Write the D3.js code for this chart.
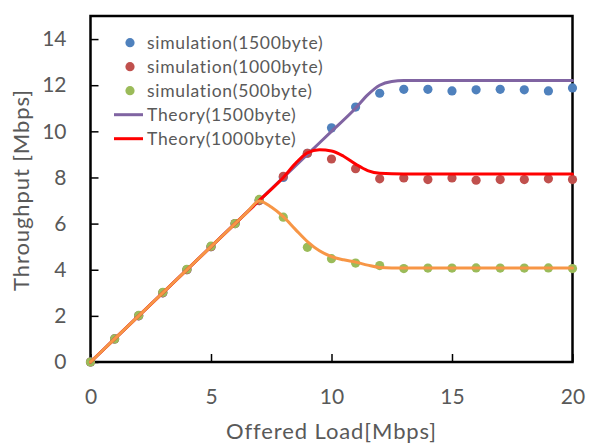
<!DOCTYPE html>
<html><head><meta charset="utf-8">
<script src="https://cdn.jsdelivr.net/npm/d3@7"></script>
<style>body{margin:0;background:#fff;} svg{display:block;}</style>
</head><body><svg id="c" width="589" height="446"></svg>
<script>
const xs = d3.range(0, 21);
const sim1500 = [0,1,2,3,4,5,6,7,8,9.05,10.15,11.05,11.65,11.82,11.82,11.75,11.8,11.82,11.8,11.75,11.88];
const sim1000 = [0,1,2,3,4,5,6,7,8.05,9.05,8.8,8.38,7.94,7.98,7.91,7.98,7.88,7.91,7.91,7.94,7.91];
const sim500  = [0,1,2.02,3.02,4.02,5.02,6,7.05,6.28,4.97,4.48,4.29,4.18,4.05,4.07,4.07,4.08,4.07,4.07,4.08,4.05];
const thX1500 = [0,1,5,9,10,11,11.5,12,12.5,13,14,20];
const thY1500 = [0,1,5,9,10,11,11.58,12.0,12.16,12.2,12.2,12.2];
const thX1000 = [0,1,6,7,8,8.5,9,9.5,10,10.5,11,11.5,12,13,14,20];
const thY1000 = [0,1,6,7,8,8.6,9.07,9.2,9.15,8.92,8.58,8.3,8.18,8.15,8.15,8.15];
const thX500 = [0,1,5,6,6.5,7,7.5,8,8.5,9,9.5,10,10.5,11,11.5,12,13,14,20];
const thY500 = [0,1,5,6,6.5,6.98,6.72,6.3,5.75,5.22,4.82,4.57,4.43,4.33,4.2,4.1,4.07,4.07,4.07];
const xTicks = [0,5,10,15,20];
const yTicks = [0,2,4,6,8,10,12,14];
const legendLabels = ["simulation(1500byte)","simulation(1000byte)","simulation(500byte)","Theory(1500byte)","Theory(1000byte)"];
const colors = {b:"#4F81BD", r:"#C0504D", g:"#9BBB59", p:"#8064A2", red:"#FF0000", o:"#F79646"};

const svg = d3.select("#c");
const L=90.5, R=572.5, T=16, B=362;
const x = d3.scaleLinear().domain([0,20]).range([L,R]);
const y = d3.scaleLinear().domain([0,15]).range([B,T]);
const font = "Lato, sans-serif";
const txt = "#595959";

const xa = svg.append("g").attr("transform",`translate(0,${B})`)
  .call(d3.axisBottom(x).tickValues(xTicks).tickSizeInner(-8).tickSizeOuter(0).tickPadding(27));
const ya = svg.append("g").attr("transform",`translate(${L},0)`)
  .call(d3.axisLeft(y).tickValues(yTicks).tickSizeInner(-8).tickSizeOuter(0).tickPadding(24));
[xa,ya].forEach(a=>{
  a.select(".domain").remove();
  a.selectAll(".tick line").attr("stroke","#000").attr("stroke-width",1.5);
  a.selectAll("text").attr("fill",txt).attr("font-family",font).attr("font-size",21);
});
xa.selectAll("text").attr("dy","0.71em");

svg.append("rect").attr("x",L).attr("y",T).attr("width",R-L).attr("height",B-T)
  .attr("fill","none").attr("stroke","#000").attr("stroke-width",2.5);

function dots(vals,c){
  svg.append("g").selectAll("circle").data(vals).join("circle")
    .attr("cx",(d,i)=>x(xs[i])).attr("cy",d=>y(d)).attr("r",4.6).attr("fill",c);
}
dots(sim1500,colors.b); dots(sim1000,colors.r); dots(sim500,colors.g);

function line(X,Y,c){
  const pts = X.map((v,i)=>[v,Y[i]]);
  svg.append("path").datum(pts)
    .attr("d",d3.line().x(d=>x(d[0])).y(d=>y(d[1])).curve(d3.curveMonotoneX))
    .attr("fill","none").attr("stroke",c).attr("stroke-width",3).attr("stroke-linejoin","round").attr("stroke-linecap","round");
}
line(thX1500,thY1500,colors.p);
line(thX1000,thY1000,colors.red);
line(thX500,thY500,colors.o);

const lg = svg.append("g");
const lc = [colors.b,colors.r,colors.g,colors.p,colors.red];
legendLabels.forEach((t,i)=>{
  const yy = 42.7 + i*24;
  if(i<3){
    lg.append("circle").attr("cx",130).attr("cy",yy).attr("r",4.6).attr("fill",lc[i]);
  } else {
    lg.append("line").attr("x1",114).attr("x2",143).attr("y1",yy).attr("y2",yy).attr("stroke",lc[i]).attr("stroke-width",3);
  }
  lg.append("text").attr("x",147).attr("y",yy).attr("dy","0.36em").text(t)
    .attr("fill",txt).attr("font-family",font).attr("font-size",17.5).attr("letter-spacing","0.7px");
});

svg.append("text").attr("x",(L+R)/2).attr("y",439).attr("text-anchor","middle")
  .attr("fill",txt).attr("font-family",font).attr("font-size",22).attr("letter-spacing","0.9px").text("Offered Load[Mbps]");
svg.append("text").attr("transform",`translate(29,${(T+B)/2+1}) rotate(-90)`).attr("text-anchor","middle")
  .attr("fill",txt).attr("font-family",font).attr("font-size",22).attr("letter-spacing","0.9px").text("Throughput [Mbps]");
</script></body></html>
